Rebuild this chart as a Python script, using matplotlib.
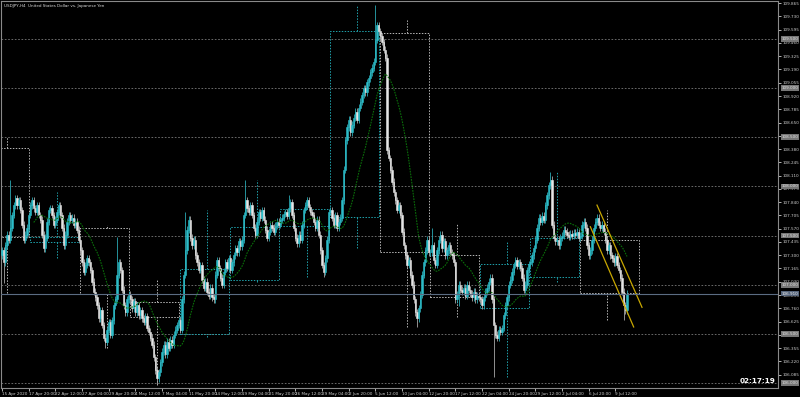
import numpy as np
import pandas as pd
import matplotlib
matplotlib.use("Agg")
import matplotlib.pyplot as plt
from matplotlib.patches import Rectangle
from matplotlib.transforms import blended_transform_factory

# ---------------- data (USDJPY H4) ----------------
closes = [
    107.35, 107.23, 107.40, 107.51, 107.46, 107.58,
    107.71, 107.81, 107.88, 107.81, 107.86, 107.76,
    107.61, 107.46, 107.51, 107.58, 107.71, 107.81,
    107.86, 107.78, 107.74, 107.81, 107.71, 107.66,
    107.51, 107.37, 107.48, 107.64, 107.76, 107.78,
    107.71, 107.61, 107.66, 107.74, 107.81, 107.71,
    107.58, 107.40, 107.51, 107.64, 107.71, 107.66,
    107.68, 107.61, 107.64, 107.56, 107.46, 107.35,
    107.23, 107.13, 107.20, 107.27, 107.23, 107.15,
    107.03, 106.93, 106.87, 106.79, 106.66, 106.74,
    106.59, 106.46, 106.42, 106.54, 106.62, 106.49,
    106.64, 106.79, 106.85, 107.10, 107.23, 107.15,
    106.95, 106.79, 106.72, 106.85, 106.90, 106.85,
    106.76, 106.83, 106.72, 106.79, 106.69, 106.74,
    106.66, 106.62, 106.68, 106.56, 106.52, 106.46,
    106.39, 106.26, 106.13, 106.05, 106.11, 106.21,
    106.32, 106.39, 106.29, 106.42, 106.36, 106.44,
    106.39, 106.49, 106.54, 106.59, 106.64, 106.54,
    106.85, 107.10, 107.35, 107.56, 107.66, 107.48,
    107.40, 107.46, 107.30, 107.23, 107.15, 107.20,
    107.05, 106.97, 107.03, 106.93, 106.89, 106.97,
    106.87, 106.85, 107.10, 107.25, 107.17, 107.07,
    107.00, 107.13, 107.23, 107.17, 107.27, 107.15,
    107.23, 107.30, 107.37, 107.33, 107.44, 107.39,
    107.46, 107.71, 107.86, 107.78, 107.74, 107.81,
    107.71, 107.58, 107.51, 107.64, 107.74, 107.68,
    107.76, 107.66, 107.56, 107.48, 107.54, 107.61,
    107.58, 107.54, 107.60, 107.64, 107.61, 107.66,
    107.68, 107.72, 107.74, 107.70, 107.78, 107.84,
    107.71, 107.58, 107.48, 107.42, 107.51, 107.46,
    107.61, 107.76, 107.81, 107.86, 107.79, 107.74,
    107.71, 107.64, 107.58, 107.66, 107.51, 107.35,
    107.20, 107.13, 107.27, 107.46, 107.74, 107.76,
    107.68, 107.61, 107.71, 107.58, 107.64, 107.68,
    107.86, 108.17, 108.47, 108.60, 108.68, 108.55,
    108.63, 108.70, 108.76, 108.68, 108.80, 108.86,
    108.93, 109.00, 108.96, 109.06, 109.10, 109.16,
    109.21, 109.27, 109.49, 109.64, 109.58, 109.53,
    109.47, 109.39, 109.31, 108.37, 108.29, 108.17,
    108.05, 107.94, 107.86, 107.76, 107.81, 107.71,
    107.54, 107.40, 107.30, 107.20, 107.25, 107.10,
    107.00, 106.85, 106.72, 106.66, 106.76, 106.90,
    107.10, 107.23, 107.35, 107.46, 107.33, 107.33,
    107.40, 107.25, 107.20, 107.35, 107.46, 107.51,
    107.37, 107.44, 107.30, 107.35, 107.40, 107.33,
    107.30, 107.23, 106.85, 106.90, 107.00, 106.95,
    106.93, 106.97, 106.89, 107.00, 106.95, 106.91,
    106.87, 106.93, 106.85, 106.89, 106.87, 106.85,
    106.79, 106.87, 106.93, 106.97, 107.03, 107.07,
    106.85, 106.59, 106.49, 106.46, 106.54, 106.52,
    106.56, 106.69, 106.79, 106.87, 107.00, 107.05,
    107.13, 107.20, 107.25, 107.19, 107.23, 107.17,
    107.07, 106.95, 107.00, 107.15, 107.21, 107.23,
    107.30, 107.37, 107.46, 107.58, 107.68, 107.64,
    107.70, 107.66, 107.81, 107.91, 108.01, 108.07,
    107.61, 107.48, 107.44, 107.46, 107.40, 107.48,
    107.50, 107.56, 107.54, 107.51, 107.49, 107.52,
    107.50, 107.53, 107.51, 107.54, 107.48, 107.50,
    107.61, 107.64, 107.58, 107.40, 107.30, 107.35,
    107.46, 107.58, 107.64, 107.68, 107.61, 107.58,
    107.61, 107.54, 107.46, 107.35, 107.40, 107.30,
    107.27, 107.23, 107.29, 107.20, 107.15, 107.07,
    106.93, 106.79, 106.74, 106.91,
]
first_open = 107.30
hi_spikes = {5: 108.07, 69: 107.49, 110: 107.74, 146: 108.07, 172: 107.91,
             224: 109.85, 329: 108.15, 258: 107.58}
lo_spikes = {1: 107.02, 62: 106.36, 93: 105.99, 193: 107.08, 249: 106.57,
             295: 106.06, 373: 106.64, 274: 106.78}

x_labels = ["15 Apr 2020", "17 Apr 20:00", "22 Apr 12:00", "27 Apr 04:00",
            "29 Apr 20:00", "4 May 12:00", "7 May 04:00", "11 May 20:00",
            "14 May 12:00", "19 May 04:00", "21 May 20:00", "26 May 12:00",
            "29 May 04:00", "2 Jun 20:00", "5 Jun 12:00", "10 Jun 04:00",
            "12 Jun 20:00", "17 Jun 12:00", "22 Jun 04:00", "24 Jun 20:00",
            "29 Jun 12:00", "2 Jul 04:00", "6 Jul 20:00", "9 Jul 12:00"]

# weekly candle overlay
wk_first = [-13, 17, 47, 77, 107, 137, 167, 197, 227, 257, 287, 317, 347]
wk_last = [16, 46, 76, 106, 136, 166, 196, 226, 256, 286, 316, 346, 382]
wk_open = [108.39, 107.43, 107.58, 106.82, 106.50, 107.05, 107.60, 107.69, 109.56, 107.30, 106.76, 107.08, 107.46]
wk_close = [107.49, 107.49, 106.91, 106.67, 107.16, 107.59, 107.77, 109.58, 107.33, 106.87, 107.21, 107.48, 106.92]
wk_high = [108.50, 107.94, 107.61, 107.05, 107.76, 108.07, 107.89, 109.84, 109.69, 107.63, 107.43, 108.15, 107.76]
wk_low = [106.92, 107.27, 106.36, 105.98, 106.47, 107.03, 107.08, 107.37, 106.57, 106.67, 106.06, 107.03, 106.64]

round_levels = [106.0, 106.5, 107.0, 107.5, 108.0, 108.5, 109.0, 109.5]
price_ticks = [109.865, 109.730, 109.595, 109.460, 109.325, 109.190, 109.055,
               108.920, 108.785, 108.650, 108.515, 108.380, 108.245, 108.110,
               107.975, 107.840, 107.705, 107.570, 107.435, 107.300, 107.165,
               107.030, 106.895, 106.760, 106.625, 106.490, 106.355, 106.220,
               106.085]

trend_upper = [(357, 107.81), (384, 106.77)]
trend_lower = [(353, 107.59), (379, 106.57)]
ma_period = 20
timer_text = "02:17:19"
title_text = "USDJPY,H4  United States Dollar vs. Japanese Yen"

# ---------------- figure ----------------
BG = "#000000"
UP = "#2cbcc8"
DN = "#e6e6e6"
GRID = "#7a7a7a"
FS = 3.0

fig = plt.figure(figsize=(8, 3.97), dpi=100, facecolor=BG)
ax = fig.add_axes([1 / 800, 9 / 397, 777 / 800, 387 / 397], facecolor=BG)

c = np.array(closes)
o = np.array([first_open] + closes[:-1])
idx = np.arange(len(c))
wick = 0.035
h = np.maximum(o, c) + wick
l = np.minimum(o, c) - wick
for k, v in hi_spikes.items():
    h[k] = max(h[k], v)
for k, v in lo_spikes.items():
    l[k] = min(l[k], v)

# round level dotted lines
for lv in round_levels:
    ax.axhline(lv, color=GRID, lw=0.6, ls=(0, (2, 2)), zorder=1)

# weekly overlay
dot = (0, (1.5, 1.5))
for f, la, wo, wc, wh, wl in zip(wk_first, wk_last, wk_open, wk_close, wk_high, wk_low):
    col = "#1fa3ad" if wc >= wo else "#b8b8b8"
    lo_b, hi_b = min(wo, wc), max(wo, wc)
    ax.add_patch(Rectangle((f, lo_b), la - f, hi_b - lo_b, fill=False,
                           ec=col, lw=0.7, ls=dot, zorder=2))
    xm = f + 16
    ax.plot([xm, xm], [hi_b, wh], color=col, lw=0.7, ls=dot, zorder=2)
    ax.plot([xm, xm], [wl, lo_b], color=col, lw=0.7, ls=dot, zorder=2)

# candles
cols = np.where(c >= o, UP, DN)
wcols = np.where(c >= o, "#2aa9b4", "#a8a8a8")
ax.vlines(idx, l, h, colors=wcols, lw=0.6, zorder=3)
body = np.maximum(np.abs(c - o), 0.006)
ax.bar(idx, body, bottom=np.minimum(o, c), width=0.7, color=cols,
       edgecolor=cols, linewidth=0.4, zorder=4)

# moving average
ma = pd.Series(c).rolling(ma_period).mean()
ax.plot(idx, ma, color="#0a6e0a", lw=0.8, ls=(0, (1.5, 1)), zorder=5)

# trend channel
for seg in (trend_upper, trend_lower):
    xs, ys = zip(*seg)
    ax.plot(xs, ys, color="#c9a800", lw=0.9, zorder=6)

# bid line
bid = c[-1]
ax.axhline(bid, color="#5b6c82", lw=0.8, zorder=6)

# axes
ax.set_xlim(-0.6, 465.6)
ax.set_ylim(105.949, 109.887)
for sp in ax.spines.values():
    sp.set_color("#8a8a8a")
    sp.set_linewidth(0.8)
ax.yaxis.tick_right()
ax.set_yticks(price_ticks)
ax.set_yticklabels([f"{t:.3f}" for t in price_ticks])
ax.tick_params(axis="y", colors="#cfcfcf", labelsize=FS, length=2,
               width=0.6, pad=1.2)
xt = list(range(0, 16 * len(x_labels), 16))
ax.set_xticks(xt)
ax.set_xticklabels(x_labels, ha="left")
ax.tick_params(axis="x", colors="#cfcfcf", labelsize=FS, length=2,
               width=0.6, pad=1)

trans = blended_transform_factory(ax.transAxes, ax.transData)
for lv in round_levels:
    ax.text(1.0045, lv, f"{lv:.3f}", transform=trans, fontsize=FS,
            color="#e2e2e2", va="center", ha="left", clip_on=False,
            bbox=dict(boxstyle="square,pad=0.2", fc="#767676", ec="none"),
            zorder=10)
ax.text(1.0045, bid, f"{bid:.3f}", transform=trans, fontsize=FS,
        color="#f0f0f0", va="center", ha="left", clip_on=False,
        bbox=dict(boxstyle="square,pad=0.2", fc="#56657c", ec="none"),
        zorder=11)

fig.text(4 / 800, 1 - 6 / 397, title_text, fontsize=3.0, color="#d8d8d8",
         ha="left", va="center")
fig.text(775 / 800, 1 - 381 / 397, timer_text, fontsize=5.2, color="white",
         fontweight="bold", ha="right", va="center")

fig.savefig("out.png", dpi=100, facecolor=BG)
